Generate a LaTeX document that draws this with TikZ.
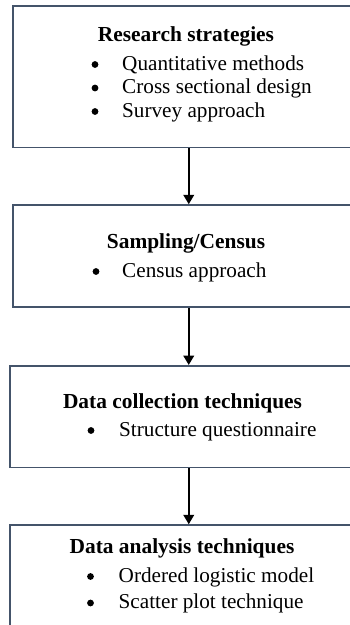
\documentclass[tikz,border=0pt]{standalone}
\usepackage{fontspec}
\setmainfont{Liberation Serif}
\usetikzlibrary{arrows.meta}
\definecolor{boxline}{HTML}{44546A}
\begin{document}
\begin{tikzpicture}[x=1pt,y=-1pt,
  box/.style={draw=boxline,line width=1.5pt,rectangle,inner sep=0pt,anchor=north west},
  title/.style={font=\fontsize{21.4}{25}\selectfont\bfseries,anchor=base,inner sep=0pt},
  item/.style={font=\fontsize{21.2}{23}\selectfont,anchor=base west,inner sep=0pt},
  bul/.style={circle,fill=black,draw=none,inner sep=0pt,minimum size=6.8pt},
  arr/.style={line width=2.3pt,-{Triangle[width=10.5pt,length=9.5pt]}}]
\useasboundingbox (0,0) rectangle (350,625);
\clip (0,0) rectangle (350,625);
\fill[white] (0,0) rectangle (350,625);
% boxes
\node[box,minimum width=352pt,minimum height=141.5pt] (b1) at (12,5) {};
\node[box,minimum width=352pt,minimum height=102pt] (b2) at (12,204.3) {};
\node[box,minimum width=358pt,minimum height=101.7pt] (b3) at (9,365) {};
\node[box,minimum width=358pt,minimum height=130pt] (b4) at (9,524.3) {};
% box 1
\node[title] (t1) at (186,41) {Research strategies};
\node[bul] (d11) at (95,64.5) {};
\node[item] (i11) at (122,70) {Quantitative methods};
\node[bul] (d12) at (95,88) {};
\node[item] (i12) at (122,93.5) {Cross sectional design};
\node[bul] (d13) at (95,111.5) {};
\node[item] (i13) at (122,117) {Survey approach};
% box 2
\node[title] (t2) at (186,248.5) {Sampling/Census};
\node[bul] (d21) at (96,271.5) {};
\node[item] (i21) at (122,277) {Census approach};
% box 3
\node[title] (t3) at (182.5,408.5) {Data collection techniques};
\node[bul] (d31) at (91,430.5) {};
\node[item] (i31) at (119,436) {Structure questionnaire};
% box 4
\node[title] (t4) at (182,553.5) {Data analysis techniques};
\node[bul] (d41) at (90.5,576.5) {};
\node[item] (i41) at (118.5,582) {Ordered logistic model};
\node[bul] (d42) at (90.5,603) {};
\node[item] (i42) at (118.5,608.5) {Scatter plot technique};
% arrows
\draw[arr] (b1.south) -- (b2.north);
\draw[arr] (b2.south) -- (b3.north);
\draw[arr] (b3.south) -- (b4.north);
\end{tikzpicture}
\end{document}
